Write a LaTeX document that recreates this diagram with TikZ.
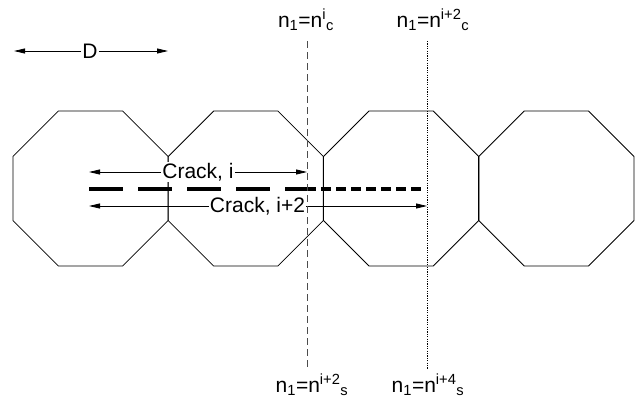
\documentclass[tikz,border=0pt]{standalone}
\usepackage{fontspec}
\setmainfont{Liberation Sans}
\usetikzlibrary{arrows.meta,positioning}

\begin{document}
\begin{tikzpicture}[
    x=1pt, y=-1pt,
    every node/.style={font=\fontsize{21}{25}\selectfont, inner sep=1pt},
    grain/.style={draw, line width=0.8pt},
    dimarrow/.style={-{Triangle[length=11pt,width=5pt]}, line width=0.8pt},
    lbl/.style={fill=white, inner sep=1pt},
    crackline/.style={line width=4pt},
    cutline/.style={line width=0.8pt, black!70, dash pattern=on 7pt off 4pt},
    dotline/.style={line width=0.8pt, dash pattern=on 1.2pt off 1.2pt},
]
\useasboundingbox (0,0) rectangle (638,402);

% -------- grains --------
\foreach \cx in {90.5, 245.8, 401.1, 556.4}{
  \draw[grain] (\cx,188.5) +(22.5:83.9) -- +(67.5:83.9) -- +(112.5:83.9)
        -- +(157.5:83.9) -- +(202.5:83.9) -- +(247.5:83.9)
        -- +(292.5:83.9) -- +(337.5:83.9) -- cycle;
}

% -------- grain size D --------
\coordinate (d-l) at (14,51);
\coordinate (d-r) at (168,51);
\node[lbl] (dlab) at (90,51) {D};
\draw[dimarrow] (dlab) -- (d-l);
\draw[dimarrow] (dlab) -- (d-r);

% -------- crack front --------
\coordinate (ck-a) at (89,188.5);
\coordinate (ck-b) at (306,188.5);
\coordinate (ck-c) at (423,188.5);
\draw[crackline, dash pattern=on 34pt off 15pt] (ck-a) -- (ck-b);
\draw[crackline, dash pattern=on 10pt off 5pt] (ck-b) -- (ck-c);

% crack i
\coordinate (ci-l) at (89,172);
\coordinate (ci-r) at (307,172);
\node[lbl] (crack1) at (198,172) {Crack, i};
\draw[dimarrow] (crack1) -- (ci-l);
\draw[dimarrow] (crack1) -- (ci-r);

% crack i+2
\coordinate (cj-l) at (89,206);
\coordinate (cj-r) at (427,206);
\node[lbl] (crack2) at (257.5,206) {Crack, i+2};
\draw[dimarrow] (crack2) -- (cj-l);
\draw[dimarrow] (crack2) -- (cj-r);

% -------- cycle markers --------
\coordinate (v1-top) at (307,41);
\coordinate (v1-bot) at (307,367);
\coordinate (v2-top) at (427,41);
\coordinate (v2-bot) at (427,369);
\draw[cutline] (v1-top) -- (v1-bot);
\draw[dotline] (v2-top) -- (v2-bot);

\node[anchor=base] (nc1) at (306,27)
  {n\textsubscript{1}=n\textsuperscript{i}\textsubscript{c}};
\node[anchor=base] (nc2) at (433,27)
  {n\textsubscript{1}=n\textsuperscript{i+2}\textsubscript{c}};
\node[anchor=base] (ns1) at (312,392)
  {n\textsubscript{1}=n\textsuperscript{i+2}\textsubscript{s}};
\node[anchor=base] (ns2) at (428,392)
  {n\textsubscript{1}=n\textsuperscript{i+4}\textsubscript{s}};

\end{tikzpicture}
\end{document}
